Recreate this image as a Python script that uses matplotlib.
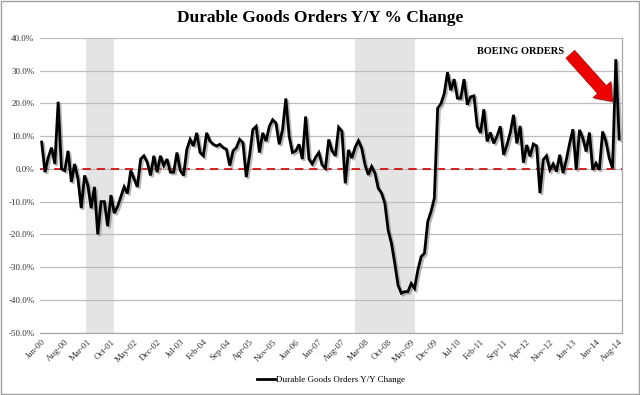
import numpy as np
import pandas as pd
import matplotlib
matplotlib.use("Agg")
import matplotlib.pyplot as plt
import matplotlib.patheffects as pe
from matplotlib.patches import Rectangle

plt.rcParams['font.family'] = ['Liberation Serif', 'DejaVu Serif']

# durable goods orders, y/y % change, monthly from Jan-00
yoy = [8.2, -1, 3.5, 6.5, 1.5, 20.5, 0, -0.5, 5.5, -4, 1.5, -3,
       -12, -2, -5, -12, -5.5, -20, -10, -10, -17.5, -8, -13.5, -11.5,
       -8.5, -5.5, -7.5, -0.5, -3, -5.5, 3, 4, 2, -2, 4, -1,
       4, 1, 3, -1, -1, 5, -0.5, -2, 6, 9, 7, 11,
       5, 4, 11, 8.5, 7.5, 7, 7.5, 6.5, 6, 1, 5.5, 6.5,
       9, 8, -2.5, 4, 12, 13, 5, 11, 8.5, 13, 15, 14,
       7.5, 12, 21.5, 10, 5, 5.5, 7.5, 3, 16, 3, 1.5, 3.5,
       5, 1.2, 0.2, 9, 5.5, 4, 12.7, 11.5, -4.4, 5.8, 3.3, 6.6,
       8.6, 6.3, 1.2, -1.8, 0.7, -1.3, -5.9, -7.4, -10.5, -18.7, -22.7, -28.8,
       -35.5, -38, -37.5, -37.5, -35, -36.5, -30.9, -26.8, -25.8, -16.1, -13, -9,
       18.5, 19.9, 23, 29.5, 24, 27.4, 21.6, 21.6, 27.4, 19.6, 22, 22.3,
       13, 11, 18.2, 8.4, 11.1, 7.8, 10, 13, 4.3, 7.3, 11, 16.5,
       7.8, 13.1, 1.9, 7.3, 3.8, 7.6, 7, -7.4, 2.8, 4, -0.3, 1.5,
       -0.8, 4.3, -1.3, 2.8, 7.8, 12.1, -0.3, 11.9, 9.4, 5.3, 11.1, -0.3,
       1.7, -0.3, 11.4, 8.4, 3.3, 0.2, 33.5, 9.1]

months = pd.date_range('2000-01-01', periods=len(yoy), freq='MS')
tick_every = 7

# recessions, as month index ranges
recession_start = [13.5, 95]
recession_end = [22, 113]

yticks = np.arange(-50, 41, 10)

fig = plt.figure(figsize=(6.4, 3.95), dpi=100)
ax = fig.add_axes([0.0625, 0.158, 0.909, 0.746])

x = np.arange(len(yoy))

for a, b in zip(recession_start, recession_end):
    ax.axvspan(a, b, color='#e4e4e4', lw=0, zorder=0)

for y in yticks:
    ax.axhline(y, color='#bdbdbd', lw=0.9, zorder=1)

ax.axhline(0, color='#d00000', lw=1.2, ls=(0, (5, 3.5)), zorder=2)

ax.plot(x, yoy, color='black', lw=2.0, zorder=3,
        solid_joinstyle='miter',
        path_effects=[pe.SimpleLineShadow(offset=(1.3, -1.3), shadow_color='#888888', alpha=0.6),
                      pe.Normal()],
        label='Durable Goods Orders Y/Y Change')

ax.set_xlim(-0.5, 175.8)
ax.set_ylim(-50, 40)
ax.set_yticks(yticks)
ax.set_yticklabels([f'{v:.1f}%' for v in yticks])
ax.set_xticks(x[::tick_every])
ax.set_xticklabels([d.strftime('%b-%y') for d in months[::tick_every]],
                   rotation=45, ha='right', rotation_mode='anchor')
ax.tick_params(axis='both', length=0, labelsize=6.5, colors='#333333', pad=4)

for s in ['left', 'top']:
    ax.spines[s].set_visible(False)
for s in ['right', 'bottom']:
    ax.spines[s].set_color('#a8a8a8')
    ax.spines[s].set_linewidth(0.9)

fig.suptitle('Durable Goods Orders Y/Y % Change', y=0.975, x=0.5,
             fontsize=12.5, fontweight='bold')

ax.text(145.2, 35.8, 'BOEING ORDERS', fontsize=7.5, fontweight='bold',
        ha='center', va='center', zorder=5)
ax.annotate('', xy=(173.0, 20.6), xytext=(160.2, 35.0),
            arrowprops=dict(arrowstyle='simple,head_width=1.45,head_length=0.95,tail_width=0.7',
                            mutation_scale=12, fc='#ee0000', ec='#b00000', lw=0.5,
                            shrinkA=0, shrinkB=0,
                            path_effects=[pe.SimplePatchShadow(offset=(1, -1), alpha=0.4), pe.Normal()]),
            zorder=5)

leg = ax.legend(loc='upper center', bbox_to_anchor=(0.5, -0.12), frameon=False,
                fontsize=6.5, handlelength=2.0, handletextpad=0.1)
leg.get_lines()[0].set_path_effects([])

fig.patches.append(Rectangle((0.002, 0.002), 0.996, 0.995, transform=fig.transFigure,
                             fill=False, ec='#a0a0a0', lw=1))

fig.savefig('out.png', dpi=100)
